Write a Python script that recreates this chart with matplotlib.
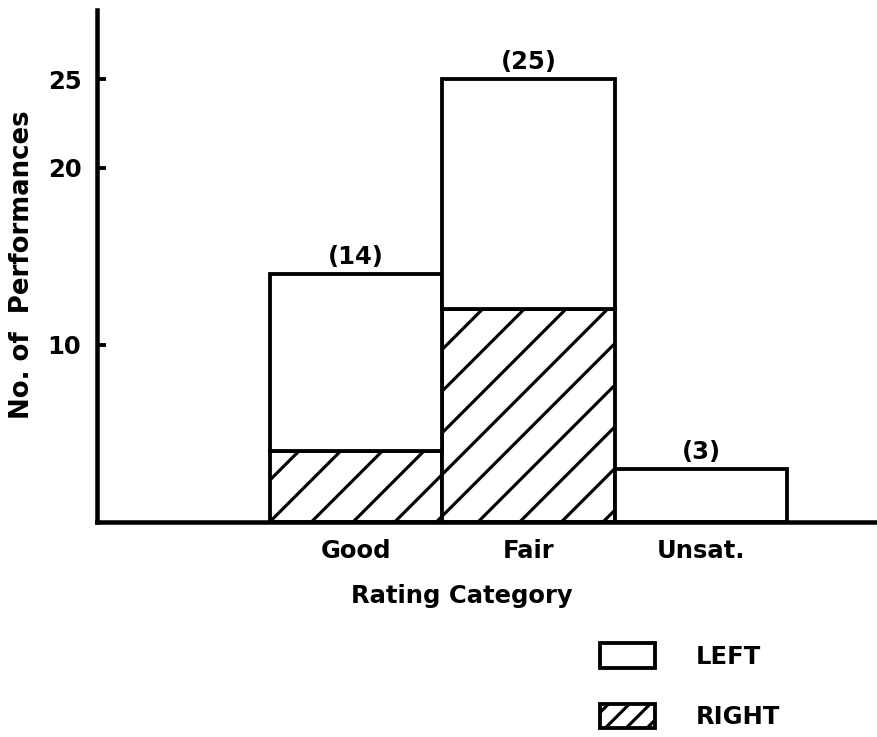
import matplotlib
matplotlib.use('Agg')
import matplotlib.pyplot as plt
from matplotlib.patches import Patch

# performances per rating category, split by hand
categories = ['Good', 'Fair', 'Unsat.']
right_counts = [4, 12, 0]
left_counts = [10, 13, 3]
totals = [14, 25, 3]
y_ticks = [10, 20, 25]

plt.rcParams['font.family'] = 'DejaVu Sans'
plt.rcParams['font.weight'] = 'bold'
plt.rcParams['hatch.linewidth'] = 0.9

dpi = 250
fig = plt.figure(figsize=(877 / dpi, 737 / dpi), dpi=dpi)
ax = fig.add_axes([97 / 877, 1 - 522 / 737, 780 / 877, 512 / 737])

x = [1, 2, 3]
ax.bar(x, right_counts, width=1.0, color='white', edgecolor='black',
       linewidth=1.1, hatch='//', label='RIGHT')
top = ax.bar(x, left_counts, width=1.0, bottom=right_counts, color='white',
             edgecolor='black', linewidth=1.1, label='LEFT')
ax.bar_label(top, labels=[f'({t})' for t in totals], padding=1.5,
             fontsize=7, fontweight='bold')

ax.set_xlim(-0.5, 4.02)
ax.set_ylim(0, 28.9)
ax.set_xticks(x)
ax.set_xticklabels(categories, fontsize=7, fontweight='bold')
ax.set_yticks(y_ticks)
ax.set_yticklabels([str(t) for t in y_ticks], fontsize=7, fontweight='bold')
ax.tick_params(axis='x', length=0, pad=5)
ax.tick_params(axis='y', direction='in', length=2.5, width=1.1, pad=4.5)

for side in ['top', 'right']:
    ax.spines[side].set_visible(False)
for side in ['left', 'bottom']:
    ax.spines[side].set_linewidth(1.3)

ax.set_xlabel('Rating Category', fontsize=7, fontweight='bold')
ax.xaxis.set_label_coords(0.468, -0.121)
ax.set_ylabel('No. of  Performances', fontsize=7.5, fontweight='bold')
ax.yaxis.set_label_coords(-0.0795, 0.502)

handles = [Patch(facecolor='white', edgecolor='black', linewidth=1.1),
           Patch(facecolor='white', edgecolor='black', linewidth=1.1, hatch='////')]
fig.legend(handles, ['LEFT', 'RIGHT'], loc='upper left',
           bbox_to_anchor=(0.684, 0.127), frameon=False, fontsize=7,
           handlelength=2.25, handleheight=1.15, handletextpad=1.7,
           labelspacing=1.45, borderpad=0, borderaxespad=0)

fig.savefig('out.png', dpi=dpi)
